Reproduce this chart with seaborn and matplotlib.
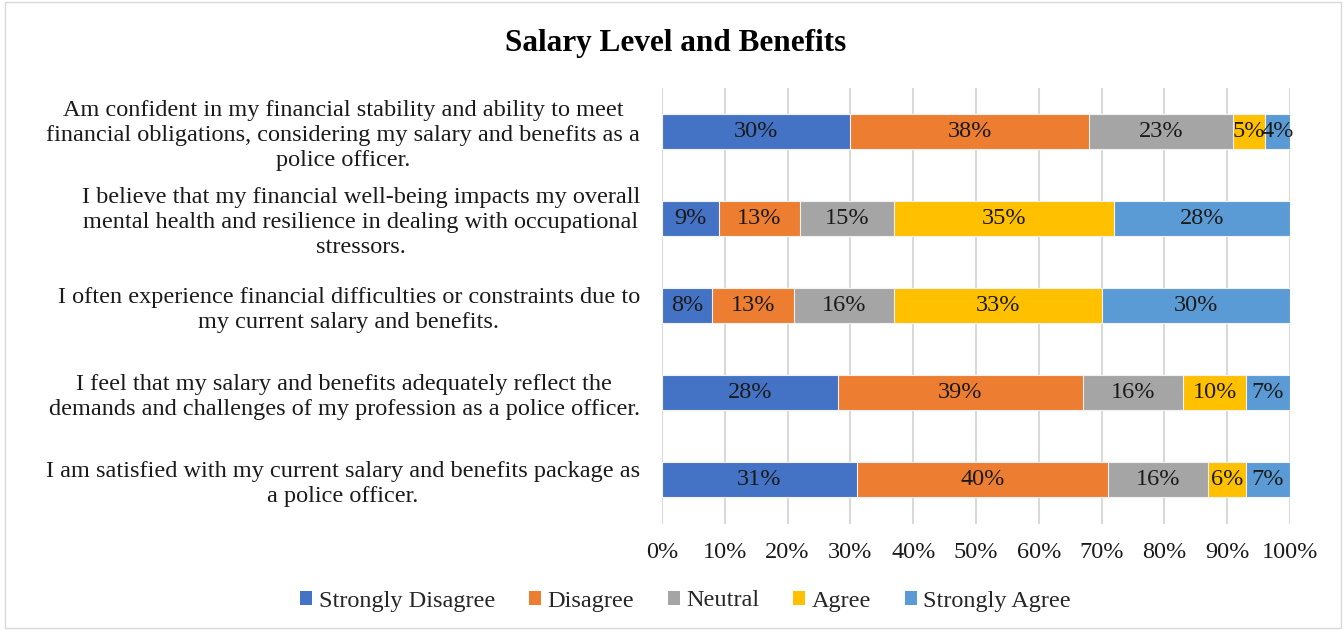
import numpy as np
import pandas as pd
import matplotlib
matplotlib.use("Agg")
import matplotlib.pyplot as plt
import seaborn as sns
from matplotlib.patches import Patch, Rectangle
from matplotlib.ticker import PercentFormatter

questions = [
    "Am confident in my financial stability and ability to meet\nfinancial obligations, considering my salary and benefits as a\npolice officer.",
    "I believe that my financial well-being impacts my overall\nmental health and resilience in dealing with occupational\nstressors.",
    "I often experience financial difficulties or constraints due to\nmy current salary and benefits.",
    "I feel that my salary and benefits adequately reflect the\ndemands and challenges of my profession as a police officer.",
    "I am satisfied with my current salary and benefits package as\na police officer.",
]
responses = ["Strongly Disagree", "Disagree", "Neutral", "Agree", "Strongly Agree"]
strongly_disagree = [30, 9, 8, 28, 31]
disagree = [38, 13, 13, 39, 40]
neutral = [23, 15, 16, 16, 16]
agree = [5, 35, 33, 10, 6]
strongly_agree = [4, 28, 30, 7, 7]
colors = ["#4472C4", "#ED7D31", "#A5A5A5", "#FFC000", "#5B9BD5"]

series = [strongly_disagree, disagree, neutral, agree, strongly_agree]
vals = np.array(series, dtype=float)  # shape (5 responses, 5 questions)
cum = vals.cumsum(axis=0)
starts = cum - vals

sns.set_theme(style="white")
plt.rcParams["font.family"] = ["Liberation Serif", "DejaVu Serif"]

FS = 17.5
fig = plt.figure(figsize=(13.44, 6.3), dpi=100)
ax = fig.add_axes([662 / 1344, 1 - 523.5 / 630, 628 / 1344, 436 / 630])

ax.set_axisbelow(True)
for i in reversed(range(len(responses))):
    df = pd.DataFrame({"q": questions, "v": cum[i]})
    sns.barplot(data=df, x="v", y="q", order=questions, color=colors[i],
                orient="h", width=0.4, ax=ax, saturation=1,
                edgecolor="#F2F2F2", linewidth=0.8, zorder=2)

for i in range(len(responses)):
    for j in range(len(questions)):
        ax.text(starts[i, j] + vals[i, j] / 2, j, f"{int(vals[i, j])}%",
                ha="center", va="center", fontsize=FS, color="#1a1a1a", zorder=5)

ax.set_xlim(0, 100)
ax.set_xticks(np.arange(0, 101, 10))
ax.xaxis.set_major_formatter(PercentFormatter(decimals=0))
ax.grid(axis="x", color="#D9D9D9", linewidth=1.5)
ax.grid(axis="y", visible=False)
for s in ax.spines.values():
    s.set_visible(False)
ax.set_xlabel("")
ax.set_ylabel("")
ax.tick_params(axis="x", labelsize=FS, colors="#1a1a1a", pad=13, length=0)
ax.tick_params(axis="y", labelsize=FS, colors="#1a1a1a", pad=16, length=0)
for lbl in ax.get_yticklabels():
    lbl.set_multialignment("center")
    lbl.set_linespacing(1.25)

fig.suptitle("Salary Level and Benefits", x=0.503, y=1 - 43 / 630, va="center",
             fontsize=22.5, fontweight="bold", color="#000000")

handles = [Patch(facecolor=c, edgecolor="none") for c in colors]
fig.legend(handles, responses, loc="center", bbox_to_anchor=(0.51, 1 - 601 / 630),
           ncol=5, frameon=False, fontsize=FS, handlelength=0.5, handleheight=0.5,
           handletextpad=0.25, columnspacing=1.4)

fig.patches.append(Rectangle((5 / 1344, 2 / 630), 1336 / 1344, 626 / 630,
                             transform=fig.transFigure, fill=False,
                             edgecolor="#D9D9D9", linewidth=1))

fig.savefig("out.png", dpi=100)
